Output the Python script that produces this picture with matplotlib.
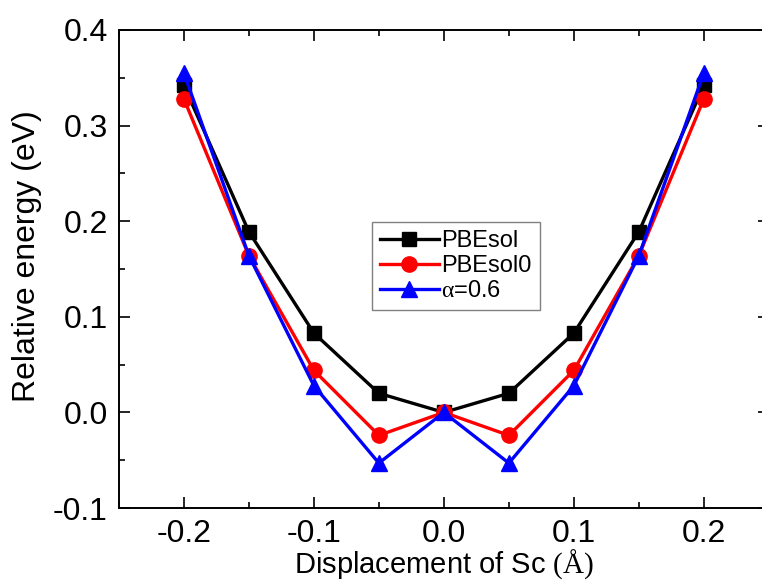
import matplotlib
matplotlib.use("Agg")
import matplotlib.pyplot as plt
from matplotlib.ticker import MultipleLocator, FormatStrFormatter

# === datos ===
desplazamiento = [-0.2, -0.15, -0.1, -0.05, 0.0, 0.05, 0.1, 0.15, 0.2]
pbesol = [0.342, 0.189, 0.083, 0.020, 0.0, 0.020, 0.083, 0.189, 0.342]
pbesol0 = [0.328, 0.164, 0.044, -0.024, 0.0, -0.024, 0.044, 0.164, 0.328]
alpha06 = [0.355, 0.164, 0.028, -0.053, 0.0, -0.053, 0.028, 0.164, 0.355]

plt.rcParams['font.family'] = ['Liberation Sans', 'DejaVu Sans']
plt.rcParams['axes.unicode_minus'] = False
plt.rcParams['mathtext.fontset'] = 'custom'
plt.rcParams['mathtext.rm'] = 'Liberation Serif'

fig = plt.figure(figsize=(7.62, 5.88), dpi=100)
# el eje derecho queda fuera de la imagen, como en el original
ax = fig.add_axes([0.156, 0.136, 0.853, 0.813])

ax.plot(desplazamiento, pbesol, color='black', marker='s', markersize=10, linewidth=2.4, label='PBEsol')
ax.plot(desplazamiento, pbesol0, color='red', marker='o', markersize=11, linewidth=2.4, label='PBEsol0')
ax.plot(desplazamiento, alpha06, color='blue', marker='^', markersize=12, linewidth=2.4, label=r'$\mathrm{α}$=0.6')

ax.set_xlim(-0.25, 0.25)
ax.set_ylim(-0.1, 0.4)
ax.xaxis.set_major_locator(MultipleLocator(0.1))
ax.xaxis.set_minor_locator(MultipleLocator(0.05))
ax.yaxis.set_major_locator(MultipleLocator(0.1))
ax.yaxis.set_minor_locator(MultipleLocator(0.05))
ax.xaxis.set_major_formatter(FormatStrFormatter('%.1f'))
ax.yaxis.set_major_formatter(FormatStrFormatter('%.1f'))
ax.tick_params(which='both', direction='in', top=True, right=True, width=1.2, labelsize=23)
ax.tick_params(which='major', length=8)
ax.tick_params(which='minor', length=4)
ax.tick_params(axis='x', which='major', pad=8)
ax.tick_params(axis='y', which='major', pad=8)
for s in ax.spines.values():
    s.set_linewidth(1.4)

ax.set_xlabel(r'Displacement of Sc $\mathrm{(Å)}$', fontsize=21, labelpad=-1)
ax.set_ylabel('Relative energy (eV)', fontsize=23)
ax.yaxis.set_label_coords(-0.118, 0.527)

leg = ax.legend(loc='upper left', bbox_to_anchor=(0.389, 0.598), fontsize=17, handlelength=2.5,
                fancybox=False, edgecolor='gray', framealpha=1, borderpad=0.35,
                labelspacing=0.12, handletextpad=0.1, borderaxespad=0)
leg.get_frame().set_linewidth(1.0)

plt.savefig('out.png', dpi=100)
